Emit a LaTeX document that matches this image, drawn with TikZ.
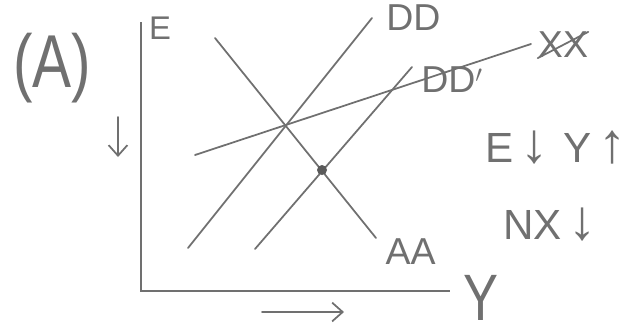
\documentclass[tikz,border=0pt]{standalone}
\usepackage{fontspec}
\setmainfont{Liberation Sans}
\usetikzlibrary{arrows.meta, positioning}
\definecolor{pencil}{RGB}{112,112,112}
\newcommand{\bigarr}[1]{{\fontsize{48}{48}\selectfont #1}}

\begin{document}
\begin{tikzpicture}[
  x=0.03cm, y=-0.03cm,
  font=\fontsize{32}{32}\selectfont,
  curve/.style={draw=pencil, line width=1.5pt, line cap=round},
  axis/.style={draw=pencil, line width=2.2pt},
  lbl/.style={text=pencil, inner sep=0pt},
  shiftarrow/.style={draw=pencil, line width=1.5pt, line cap=round, -{Straight Barb[length=9pt, width=16pt]}}
]
\useasboundingbox (0,0) rectangle (637,333);
\coordinate (origin) at (141,291);
\coordinate (ytop) at (141,22);
\coordinate (xend) at (450,291);
\draw[axis] (ytop) -- (origin) -- (xend);

\coordinate (dd1) at (188,248);
\coordinate (dd2) at (372,18);
\coordinate (ddp1) at (255,249);
\coordinate (ddp2) at (412,67);
\coordinate (aa1) at (215,38);
\coordinate (aa2) at (376,238);
\coordinate (xx1) at (195,155);
\coordinate (xx2) at (531,44);
\draw[curve] (dd1) -- (dd2);
\draw[curve] (ddp1) -- (ddp2);
\draw[curve] (aa1) -- (aa2);
\draw[curve] (xx1) -- (xx2);
\fill[pencil!80!black] (322,170) circle (5);

\node[lbl, font=\fontsize{64}{64}\selectfont] (title) at (52,68) {\scalebox{0.78}[1]{(A)}};
\node[lbl, font=\fontsize{28}{28}\selectfont] (elabel) at (160,28) {E};
\node[lbl, font=\fontsize{56}{56}\selectfont] (ylabel) at (481,298) {\scalebox{0.8}[1]{Y}};
\node[lbl, right=12pt of dd2] (ddlabel) {DD};
\node[lbl] (ddplabel) at (452,80) {DD$'$};
\node[lbl, right=8pt of aa2, yshift=-12pt] (aalabel) {AA};
\node[lbl] (xxlabel) at (563,45) {XX};
\draw[curve] (xxlabel.south west) -- (xxlabel.north east);
\node[lbl, font=\fontsize{36}{36}\selectfont] (eyshift) at (556,148) {E\,\bigarr{↓}\hspace{12pt}Y\,\bigarr{↑}};
\node[lbl, font=\fontsize{36}{36}\selectfont] (nxshift) at (550,225) {NX\,\bigarr{↓}};

\coordinate (edown1) at (118,117);
\coordinate (edown2) at (118,157);
\draw[shiftarrow] (edown1) -- (edown2);
\coordinate (yright1) at (262,312);
\coordinate (yright2) at (344,312);
\draw[shiftarrow] (yright1) -- (yright2);
\end{tikzpicture}
\end{document}
